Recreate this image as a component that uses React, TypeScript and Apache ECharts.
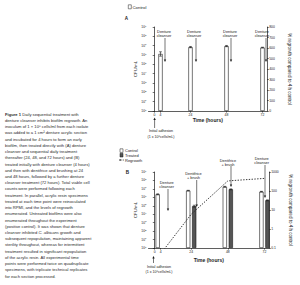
import React, { useEffect, useRef } from "react";
import * as echarts from "echarts";

const timeTicks = [0, 4, 24, 48, 72];

const timesA = [4, 24, 48, 72];
const controlA = [1.3e6, 7.0e6, 9.0e6, 6.3e6];
const controlALow = [7.5e5, 6.0e6, 7.8e6, 5.8e6];
const controlAHigh = [2.2e6, 8.2e6, 1.05e7, 6.8e6];

const timesB = [4, 24, 48, 72];
const controlB = [2.3e6, 6.3e6, 1.8e7, 4.7e6];
const controlBLow = [2.0e6, 5.8e6, 1.6e7, 4.3e6];
const controlBHigh = [2.6e6, 6.8e6, 2.0e7, 5.1e6];
const treatedB = [null, 9.0e4, 9.0e6, 4.5e5];
const treatedBLow = [null, 7.0e4, 8.0e6, 4.0e5];
const treatedBHigh = [null, 1.15e5, 1.0e7, 5.0e5];
const regrowthB = [0.05, 6, 340, 460];

const captionLines = [
  "{b|Figure 1} Daily sequential treatment with",
  "denture cleanser inhibits biofilm regrowth. An",
  "inoculum of 1 × 10⁸ cells/ml from each isolate",
  "was added to a 1 cm² denture acrylic section",
  "and incubated for 4 hours to form an early",
  "biofilm, then treated directly with (A) denture",
  "cleanser and sequential daily treatment",
  "thereafter (24, 48, and 72 hours) and (B)",
  "treated initially with denture cleanser (4 hours)",
  "and then with dentifrice and brushing at 24",
  "and 48 hours, followed by a further denture",
  "cleanser treatment (72 hours). Total viable cell",
  "counts were performed following each",
  "treatment. In parallel, acrylic resin specimens",
  "treated at each time point were reinoculated",
  "into RPMI, and the levels of regrowth",
  "enumerated. Untreated biofilms were also",
  "enumerated throughout the experiment",
  "(positive control). It was shown that denture",
  "cleanser inhibited {i|C. albicans} growth and",
  "subsequent repopulation, maintaining apparent",
  "sterility throughout, whereas for intermittent",
  "treatment resulted in significant repopulation",
  "of the acrylic resin. All experimental time",
  "points were performed twice on quadruplicate",
  "specimens, with triplicate technical replicates",
  "for each section processed.",
];

const FONT = "Liberation Sans, Arial, Helvetica, sans-serif";
const INK = "#1a1a1a";

function downArrow(x: number, y1: number, y2: number) {
  return [
    { type: "line", shape: { x1: x, y1, x2: x, y2: y2 - 2 }, style: { stroke: INK, lineWidth: 0.6 } },
    { type: "polygon", shape: { points: [[x - 1.2, y2 - 2.6], [x + 1.2, y2 - 2.6], [x, y2]] }, style: { fill: INK } },
  ];
}
function upArrow(x: number, y1: number, y2: number) {
  return [
    { type: "line", shape: { x1: x, y1, x2: x, y2: y2 + 2 }, style: { stroke: INK, lineWidth: 0.6 } },
    { type: "polygon", shape: { points: [[x - 1.2, y2 + 2.6], [x + 1.2, y2 + 2.6], [x, y2]] }, style: { fill: INK } },
  ];
}
function label(x: number, y: number, text: string, size = 3.8, extra: any = {}) {
  return {
    type: "text",
    x,
    y,
    style: { text, fontSize: size, fontFamily: FONT, fill: INK, align: "center", verticalAlign: "middle", lineHeight: size * 1.05, ...extra },
  };
}

function errorSeries(xi: number, yi: number, times: number[], lo: any[], hi: any[], offset: number) {
  const data: any[] = [];
  times.forEach((t, i) => {
    if (lo[i] != null) data.push([t, lo[i], hi[i]]);
  });
  return {
    type: "custom",
    xAxisIndex: xi,
    yAxisIndex: yi,
    silent: true,
    z: 5,
    encode: { x: 0, y: [1, 2] },
    data,
    renderItem: (_p: any, api: any) => {
      const a = api.coord([api.value(0), api.value(1)]);
      const b = api.coord([api.value(0), api.value(2)]);
      const x = a[0] + offset;
      const w = 1.4;
      const st = { stroke: INK, lineWidth: 0.6 };
      return {
        type: "group",
        children: [
          { type: "line", shape: { x1: x, y1: b[1], x2: x, y2: a[1] }, style: st },
          { type: "line", shape: { x1: x - w, y1: b[1], x2: x + w, y2: b[1] }, style: st },
          { type: "line", shape: { x1: x - w, y1: a[1], x2: x + w, y2: a[1] }, style: st },
        ],
      };
    },
  };
}

const supFmt = (v: number) => "10{s|" + Math.round(Math.log10(v)) + "}";

function cfuAxis(grid: number) {
  return {
    type: "log",
    logBase: 10,
    gridIndex: grid,
    min: 1,
    max: 1e9,
    name: "CFU/mL",
    nameLocation: "middle",
    nameRotate: 90,
    nameGap: 11,
    nameTextStyle: { fontSize: 4.4, fontFamily: FONT, color: INK },
    axisLine: { show: true, lineStyle: { color: INK, width: 0.7 } },
    axisTick: { show: true, length: 1.8, lineStyle: { color: INK, width: 0.6 } },
    minorTick: { show: false },
    splitLine: { show: false },
    axisLabel: {
      fontSize: 3.4,
      fontFamily: FONT,
      color: INK,
      margin: 2,
      formatter: supFmt,
      rich: { s: { fontSize: 2.5, fontFamily: FONT, color: INK, padding: [0, 0, 2.2, 0] } },
    },
  };
}

function timeAxis(grid: number) {
  return {
    type: "value",
    gridIndex: grid,
    min: -4,
    max: 75,
    name: "Time (hours)",
    nameLocation: "middle",
    nameGap: 6.5,
    nameTextStyle: { fontSize: 5, fontWeight: "bold", fontFamily: FONT, color: INK },
    axisLine: { show: true, lineStyle: { color: INK, width: 0.7 } },
    axisTick: { show: true, length: 1.6, customValues: timeTicks, lineStyle: { color: INK, width: 0.6 } },
    axisLabel: { fontSize: 3.4, fontFamily: FONT, color: INK, margin: 2.2, customValues: timeTicks },
    splitLine: { show: false },
  };
}

const rightName = "% regrowth compared to 4 h control";

export default function App() {
  const ref = useRef<HTMLDivElement>(null);
  useEffect(() => {
    if (!ref.current) return;
    const chart = echarts.init(ref.current, undefined, { renderer: "svg" });

    const graphics: any[] = [];
    captionLines.forEach((t, i) => {
      graphics.push({
        type: "text",
        x: 5,
        y: 114.3 + i * 6.22,
        style: {
          text: t,
          fontSize: 4.15,
          fontFamily: FONT,
          fill: "#2a2a2a",
          verticalAlign: "middle",
          rich: {
            b: { fontSize: 4.15, fontWeight: "bold", fontFamily: FONT, fill: "#2a2a2a" },
            i: { fontSize: 4.15, fontStyle: "italic", fontFamily: FONT, fill: "#2a2a2a" },
          },
        },
      });
    });

    // Panel A legend and label
    graphics.push({ type: "rect", shape: { x: 128.3, y: 4.8, width: 3, height: 4 }, style: { fill: "#fff", stroke: INK, lineWidth: 0.5 } });
    graphics.push(label(132.5, 7, "Control", 4.3, { align: "left" }));
    graphics.push(label(126.5, 18.3, "A", 4.6, { fontWeight: "bold" }));

    // Panel A annotations
    [[164, 165], [194, 196], [230, 231], [262, 266]].forEach(([tx, ax]) => {
      graphics.push(label(tx, 33.8, "Denture\ncleanser", 3.9));
      graphics.push(...downArrow(ax, 38, 62));
    });
    graphics.push(...upArrow(154.6, 128, 117.5));
    graphics.push(label(161, 131.3, "Initial adhesion", 3.6));
    graphics.push(label(161, 136.6, "(1 x 10⁸cells/mL)", 3.6));

    // Panel B legend
    graphics.push({ type: "rect", shape: { x: 120, y: 148.8, width: 3, height: 3.6 }, style: { fill: "#fff", stroke: INK, lineWidth: 0.5 } });
    graphics.push(label(125, 150.6, "Control", 4, { align: "left" }));
    graphics.push({ type: "rect", shape: { x: 120, y: 153.4, width: 3, height: 3.6 }, style: { fill: "#555", stroke: INK, lineWidth: 0.5 } });
    graphics.push(label(125, 155.2, "Treated", 4, { align: "left" }));
    graphics.push({ type: "line", shape: { x1: 119.5, y1: 160, x2: 124, y2: 160 }, style: { stroke: INK, lineWidth: 0.7, lineDash: [1, 0.8] } });
    graphics.push({ type: "polygon", shape: { points: [[119, 160], [120.6, 159.1], [120.6, 160.9]] }, style: { fill: INK } });
    graphics.push(label(125, 160, "Regrowth", 4, { align: "left" }));
    graphics.push(label(127.3, 172.3, "B", 4.6, { fontWeight: "bold" }));

    // Panel B annotations
    graphics.push(label(166.7, 184.7, "Denture\ncleanser", 3.9));
    graphics.push(...downArrow(168, 189, 211));
    graphics.push(label(193.5, 175.3, "Dentifrice\n+ brush", 3.9));
    graphics.push(...downArrow(196.7, 180, 207));
    graphics.push(label(228, 162.5, "Dentifrice\n+ brush", 3.9));
    graphics.push(...downArrow(231, 166, 187));
    graphics.push(label(261.7, 160.8, "Denture\ncleanser", 3.9));
    graphics.push(...downArrow(265, 165, 198));
    graphics.push(...upArrow(153.5, 263, 256));
    graphics.push(label(159, 266.7, "Initial adhesion", 3.6));
    graphics.push(label(159, 272, "(1 x 10⁸cells/mL)", 3.6));

    const option: any = {
      animation: false,
      backgroundColor: "#fff",
      textStyle: { fontFamily: FONT },
      grid: [
        { left: 148.5, top: 27, width: 118.5, height: 84, containLabel: false },
        { left: 148.5, top: 172, width: 120.5, height: 76, containLabel: false },
      ],
      xAxis: [timeAxis(0), { ...timeAxis(1), nameGap: 9 }],
      yAxis: [
        cfuAxis(0),
        {
          type: "value",
          gridIndex: 0,
          position: "right",
          min: 0,
          max: 800,
          interval: 100,
          name: rightName,
          nameLocation: "middle",
          nameRotate: -90,
          nameGap: 20,
          nameTextStyle: { fontSize: 4.5, fontFamily: FONT, color: INK },
          axisLine: { show: true, lineStyle: { color: INK, width: 0.7 } },
          axisTick: { show: true, length: 1.8, lineStyle: { color: INK, width: 0.6 } },
          axisLabel: { fontSize: 3.4, fontFamily: FONT, color: INK, margin: 2.2 },
          splitLine: { show: false },
        },
        cfuAxis(1),
        {
          type: "log",
          logBase: 10,
          gridIndex: 1,
          position: "right",
          min: 0.1,
          max: 1000,
          name: rightName,
          nameLocation: "middle",
          nameRotate: -90,
          nameGap: 19,
          nameTextStyle: { fontSize: 4.5, fontFamily: FONT, color: INK },
          axisLine: { show: true, lineStyle: { color: INK, width: 0.7 } },
          axisTick: { show: true, length: 1.8, lineStyle: { color: INK, width: 0.6 } },
          minorTick: { show: false },
          axisLabel: {
            fontSize: 3.4,
            fontFamily: FONT,
            color: INK,
            margin: 2.2,
            formatter: (v: number) => String(Number(v.toPrecision(3))),
          },
          splitLine: { show: false },
        },
      ],
      series: [
        {
          type: "bar",
          name: "Control A",
          xAxisIndex: 0,
          yAxisIndex: 0,
          barWidth: 4.3,
          data: timesA.map((t, i) => [t, controlA[i]]),
          itemStyle: { color: "#fff", borderColor: INK, borderWidth: 0.6 },
        },
        errorSeries(0, 0, timesA, controlALow, controlAHigh, 0),
        {
          type: "bar",
          name: "Control B",
          xAxisIndex: 1,
          yAxisIndex: 2,
          barWidth: 4.2,
          barGap: "43%",
          data: timesB.map((t, i) => [t, controlB[i]]),
          itemStyle: { color: "#fff", borderColor: INK, borderWidth: 0.6 },
        },
        {
          type: "bar",
          name: "Treated B",
          xAxisIndex: 1,
          yAxisIndex: 2,
          barWidth: 4.2,
          barGap: "43%",
          data: timesB.map((t, i) => [t, treatedB[i]]).filter((d) => d[1] != null),
          itemStyle: { color: "#555", borderColor: INK, borderWidth: 0.6 },
        },
        errorSeries(1, 2, timesB, controlBLow, controlBHigh, -3),
        errorSeries(1, 2, timesB, treatedBLow, treatedBHigh, 3),
        {
          type: "line",
          name: "Regrowth",
          xAxisIndex: 1,
          yAxisIndex: 3,
          symbol: "none",
          clip: true,
          z: 6,
          data: timesB.map((t, i) => [t, regrowthB[i]]),
          lineStyle: { color: "#222", width: 0.9, type: [1.4, 1.4] },
        },
      ],
      graphic: graphics,
    };
    chart.setOption(option);
    return () => chart.dispose();
  }, []);
  return <div ref={ref} style={{ position: "fixed", left: 0, top: 0, width: 300, height: 285, background: "#fff" }} />;
}
